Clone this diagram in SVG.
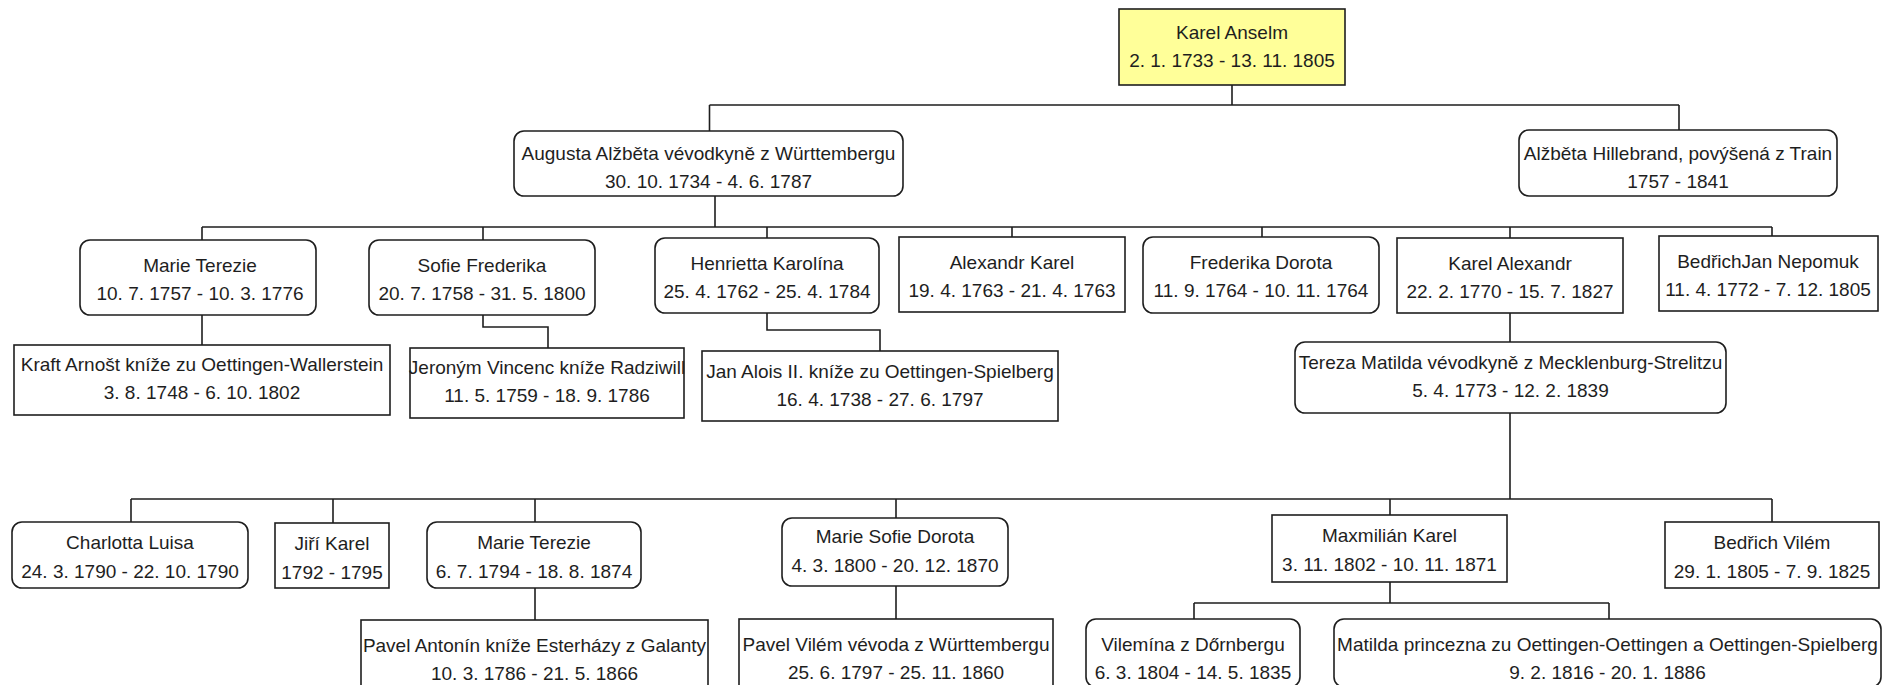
<svg xmlns="http://www.w3.org/2000/svg" width="1883" height="685" viewBox="0 0 1883 685">
<style>
.b{fill:#ffffff;stroke:#1e1e1e;stroke-width:1.6}
.root{fill:#ffff99}
.t{font-family:"Liberation Sans",Arial,sans-serif;font-size:19px;fill:#1e1e1e;text-anchor:middle}
.c{fill:none;stroke:#1e1e1e;stroke-width:1.6}
</style>
<rect width="1883" height="685" fill="#ffffff"/>
<g id="connectors">
<path class="c" d="M1232,85V105M709.5,105H1679M709.5,105V131M1679,105V130"/>
<path class="c" d="M715,196V227M202,227H1772M202,227V240M483,227V240M767,227V238M1012,227V237M1262,227V237M1510,227V238M1772,227V236"/>
<path class="c" d="M202,315V345"/>
<path class="c" d="M483,315V327H548V348"/>
<path class="c" d="M767,313V330H880V351"/>
<path class="c" d="M1510,313V342"/>
<path class="c" d="M1510,413V499M131,499H1772M131,499V522M333,499V523M535,499V522M896,499V518M1390,499V515M1772,499V522"/>
<path class="c" d="M535,588V620"/>
<path class="c" d="M896,586V619"/>
<path class="c" d="M1390,582V603M1194,603H1609M1194,603V619M1609,603V619"/>
</g>
<g id="n0"><rect class="b root" x="1119" y="9" width="226" height="76"/><text class="t" x="1232" y="39">Karel Anselm</text><text class="t" x="1232" y="67">2. 1. 1733 - 13. 11. 1805</text></g>
<g id="n1"><rect class="b" x="514" y="131" width="389" height="65" rx="10"/><text class="t" x="708.5" y="160">Augusta Alžběta vévodkyně z Württembergu</text><text class="t" x="708.5" y="188">30. 10. 1734 - 4. 6. 1787</text></g>
<g id="n2"><rect class="b" x="1519" y="130" width="318" height="66" rx="10"/><text class="t" x="1678" y="160">Alžběta Hillebrand, povýšená z Train</text><text class="t" x="1678" y="188">1757 - 1841</text></g>
<g id="n3"><rect class="b" x="80" y="240" width="236" height="75" rx="10"/><text class="t" x="200" y="272">Marie Terezie</text><text class="t" x="200" y="300">10. 7. 1757 - 10. 3. 1776</text></g>
<g id="n4"><rect class="b" x="369" y="240" width="226" height="75" rx="10"/><text class="t" x="482" y="272">Sofie Frederika</text><text class="t" x="482" y="300">20. 7. 1758 - 31. 5. 1800</text></g>
<g id="n5"><rect class="b" x="655" y="238" width="224" height="75" rx="10"/><text class="t" x="767" y="270">Henrietta Karolína</text><text class="t" x="767" y="298">25. 4. 1762 - 25. 4. 1784</text></g>
<g id="n6"><rect class="b" x="899" y="237" width="226" height="75"/><text class="t" x="1012" y="269">Alexandr Karel</text><text class="t" x="1012" y="297">19. 4. 1763 - 21. 4. 1763</text></g>
<g id="n7"><rect class="b" x="1143" y="237" width="236" height="76" rx="10"/><text class="t" x="1261" y="269">Frederika Dorota</text><text class="t" x="1261" y="297">11. 9. 1764 - 10. 11. 1764</text></g>
<g id="n8"><rect class="b" x="1397" y="238" width="226" height="75"/><text class="t" x="1510" y="270">Karel Alexandr</text><text class="t" x="1510" y="298">22. 2. 1770 - 15. 7. 1827</text></g>
<g id="n9"><rect class="b" x="1659" y="236" width="219" height="75"/><text class="t" x="1768" y="268">BedřichJan Nepomuk</text><text class="t" x="1768" y="296">11. 4. 1772 - 7. 12. 1805</text></g>
<g id="n10"><rect class="b" x="14" y="345" width="376" height="70"/><text class="t" x="202" y="371">Kraft Arnošt kníže zu Oettingen-Wallerstein</text><text class="t" x="202" y="399">3. 8. 1748 - 6. 10. 1802</text></g>
<g id="n11"><rect class="b" x="410" y="348" width="274" height="70"/><text class="t" x="547" y="374">Jeroným Vincenc kníže Radziwill</text><text class="t" x="547" y="402">11. 5. 1759 - 18. 9. 1786</text></g>
<g id="n12"><rect class="b" x="702" y="351" width="356" height="70"/><text class="t" x="880" y="378">Jan Alois II. kníže zu Oettingen-Spielberg</text><text class="t" x="880" y="406">16. 4. 1738 - 27. 6. 1797</text></g>
<g id="n13"><rect class="b" x="1295" y="342" width="431" height="71" rx="10"/><text class="t" x="1510.5" y="369">Tereza Matilda vévodkyně z Mecklenburg-Strelitzu</text><text class="t" x="1510.5" y="397">5. 4. 1773 - 12. 2. 1839</text></g>
<g id="n14"><rect class="b" x="12" y="522" width="236" height="66" rx="10"/><text class="t" x="130" y="549">Charlotta Luisa</text><text class="t" x="130" y="578">24. 3. 1790 - 22. 10. 1790</text></g>
<g id="n15"><rect class="b" x="275" y="523" width="114" height="65"/><text class="t" x="332" y="550">Jiří Karel</text><text class="t" x="332" y="579">1792 - 1795</text></g>
<g id="n16"><rect class="b" x="427" y="522" width="214" height="66" rx="10"/><text class="t" x="534" y="549">Marie Terezie</text><text class="t" x="534" y="578">6. 7. 1794 - 18. 8. 1874</text></g>
<g id="n17"><rect class="b" x="782" y="518" width="226" height="68" rx="10"/><text class="t" x="895" y="543">Marie Sofie Dorota</text><text class="t" x="895" y="572">4. 3. 1800 - 20. 12. 1870</text></g>
<g id="n18"><rect class="b" x="1272" y="515" width="235" height="67"/><text class="t" x="1389.5" y="542">Maxmilián Karel</text><text class="t" x="1389.5" y="571">3. 11. 1802 - 10. 11. 1871</text></g>
<g id="n19"><rect class="b" x="1665" y="522" width="214" height="66"/><text class="t" x="1772" y="549">Bedřich Vilém</text><text class="t" x="1772" y="578">29. 1. 1805 - 7. 9. 1825</text></g>
<g id="n20"><rect class="b" x="361" y="620" width="347" height="68"/><text class="t" x="534.5" y="652">Pavel Antonín kníže Esterházy z Galanty</text><text class="t" x="534.5" y="680">10. 3. 1786 - 21. 5. 1866</text></g>
<g id="n21"><rect class="b" x="739" y="619" width="314" height="68"/><text class="t" x="896" y="651">Pavel Vilém vévoda z Württembergu</text><text class="t" x="896" y="679">25. 6. 1797 - 25. 11. 1860</text></g>
<g id="n22"><rect class="b" x="1086" y="619" width="214" height="68" rx="10"/><text class="t" x="1193" y="651">Vilemína z Dőrnbergu</text><text class="t" x="1193" y="679">6. 3. 1804 - 14. 5. 1835</text></g>
<g id="n23"><rect class="b" x="1334" y="619" width="547" height="68" rx="10"/><text class="t" x="1607.5" y="651">Matilda princezna zu Oettingen-Oettingen a Oettingen-Spielberg</text><text class="t" x="1607.5" y="679">9. 2. 1816 - 20. 1. 1886</text></g>
</svg>
